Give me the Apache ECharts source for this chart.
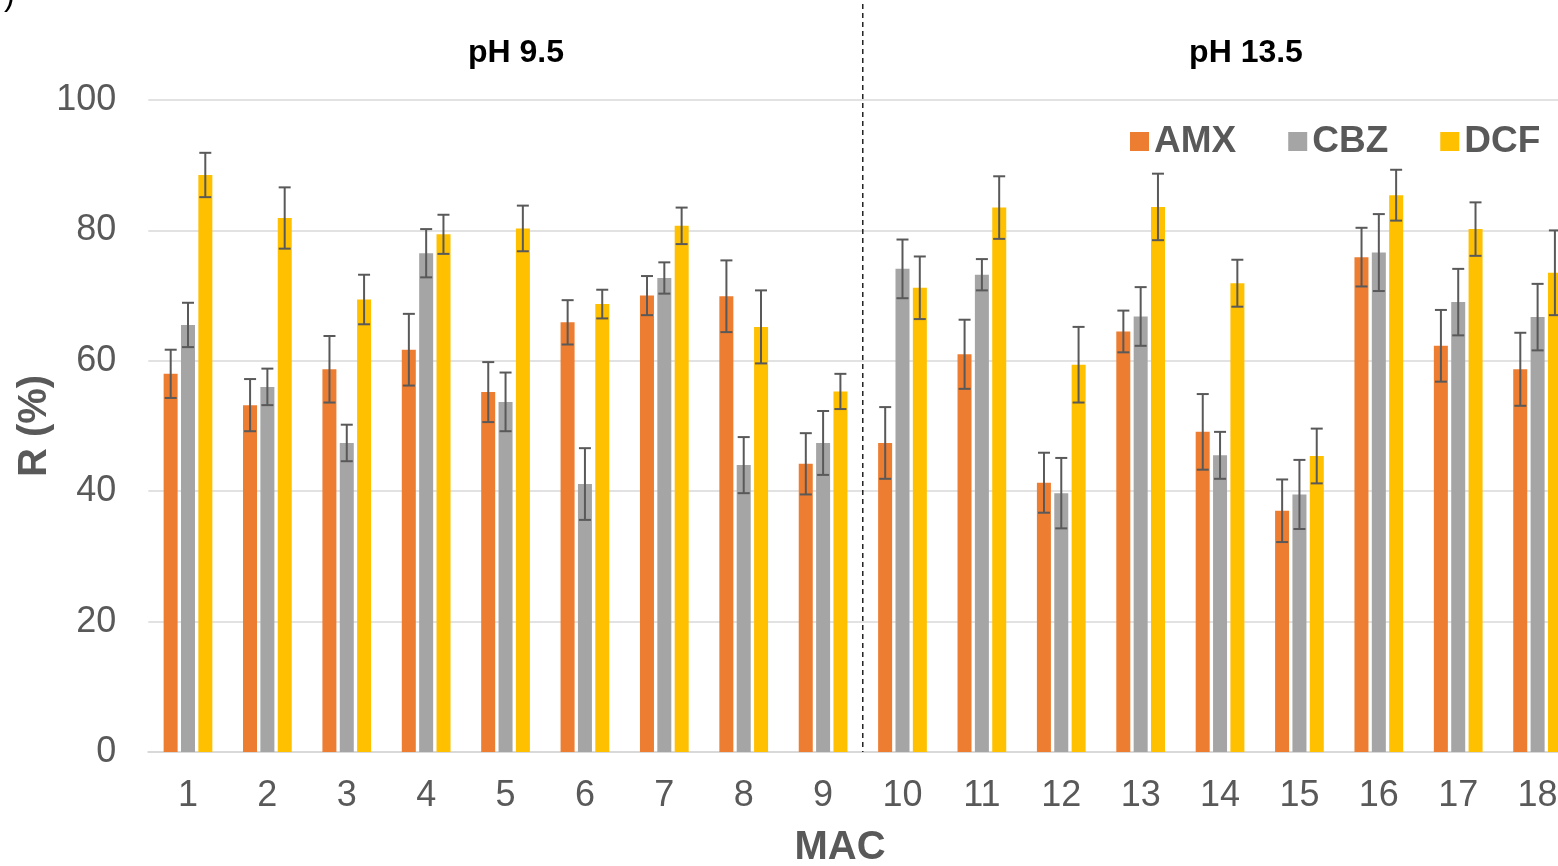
<!DOCTYPE html>
<html>
<head>
<meta charset="utf-8">
<script src="https://cdn.jsdelivr.net/npm/echarts@6/dist/echarts.min.js"></script>
<style>
  html, body { margin: 0; padding: 0; background: #fff; }
  #chart { width: 1558px; height: 866px; }
</style>
</head>
<body>
<div id="chart"></div>
<script>
// MAC 1-18, pH 9.5 for 1-9 and pH 13.5 for 10-18
var categories = ["1", "2", "3", "4", "5", "6", "7", "8", "9",
  "10", "11", "12", "13", "14", "15", "16", "17", "18"];
var seriesNames = ["AMX", "CBZ", "DCF"];
var amx = [58.0, 53.2, 58.7, 61.7, 55.2, 65.9, 70.0, 69.9, 44.2, 47.4, 61.0, 41.3, 64.5, 49.1, 37.0, 75.9, 62.3, 58.7];
var cbz = [65.5, 56.0, 47.4, 76.5, 53.7, 41.1, 72.7, 44.0, 47.4, 74.1, 73.2, 39.7, 66.8, 45.5, 39.5, 76.6, 69.0, 66.7];
var dcf = [88.5, 81.9, 69.4, 79.4, 80.3, 68.7, 80.7, 65.2, 55.3, 71.2, 83.5, 59.4, 83.6, 71.9, 45.4, 85.4, 80.2, 73.5];
var amxErr = [3.7, 4.0, 5.1, 5.5, 4.6, 3.4, 3.0, 5.5, 4.7, 5.5, 5.3, 4.6, 3.2, 5.8, 4.8, 4.5, 5.5, 5.6];
var cbzErr = [3.4, 2.8, 2.8, 3.7, 4.5, 5.5, 2.4, 4.3, 4.9, 4.5, 2.4, 5.4, 4.5, 3.6, 5.3, 5.9, 5.1, 5.1];
var dcfErr = [3.4, 4.7, 3.8, 3.0, 3.5, 2.2, 2.8, 5.6, 2.7, 4.8, 4.8, 5.8, 5.1, 3.6, 4.2, 3.9, 4.1, 6.5];
var yTicks = [0, 20, 40, 60, 80, 100];

var colors = ["#ED7D31", "#A5A5A5", "#FFC000"];
var BAR_W = 14;
var BAR_STEP = 17.3;
var FONT = "'Liberation Sans', Arial, sans-serif";

var chart = echarts.init(document.getElementById("chart"), null, { renderer: "canvas" });

function barSeries(name, vals, k) {
  return {
    name: name,
    type: "bar",
    data: vals,
    barWidth: BAR_W,
    barGap: "24%",
    itemStyle: { color: colors[k] },
  };
}

function errSeries(name, vals, errs, k) {
  return {
    name: name + " err",
    type: "custom",
    z: 10,
    silent: true,
    renderItem: function (params, api) {
      var i = api.value(0);
      var v = api.value(1);
      var e = api.value(2);
      var top = api.coord([i, v + e]);
      var bot = api.coord([i, v - e]);
      var x = top[0] + (k - 1) * BAR_STEP;
      var half = 6;
      var st = { stroke: "#595959", lineWidth: 2 };
      return {
        type: "group",
        children: [
          { type: "line", shape: { x1: x, y1: top[1], x2: x, y2: bot[1] }, style: st },
          { type: "line", shape: { x1: x - half, y1: top[1], x2: x + half, y2: top[1] }, style: st },
          { type: "line", shape: { x1: x - half, y1: bot[1], x2: x + half, y2: bot[1] }, style: st },
        ],
      };
    },
    data: vals.map(function (v, i) { return [i, v, errs[i]]; }),
  };
}

chart.setOption({
  animation: false,
  // plot runs past the right edge, as in the cropped original
  grid: { left: 148.3, top: 100, width: 1429, height: 652, outerBoundsMode: "none" },
  legend: {
    data: seriesNames,
    left: 1125,
    top: 118,
    icon: "rect",
    itemWidth: 19,
    itemHeight: 19,
    itemGap: 52,
    textStyle: { fontFamily: FONT, fontSize: 37, fontWeight: "bold", color: "#595959" },
  },
  xAxis: {
    type: "category",
    data: categories,
    axisTick: { show: false },
    axisLine: { lineStyle: { color: "#D9D9D9", width: 2 } },
    axisLabel: { fontFamily: FONT, fontSize: 36, color: "#595959", margin: 26 },
  },
  yAxis: {
    type: "value",
    min: yTicks[0],
    max: yTicks[yTicks.length - 1],
    interval: 20,
    name: "R (%)",
    nameLocation: "middle",
    nameRotate: 90,
    nameGap: 93,
    nameMoveOverlap: false,
    nameTextStyle: { fontFamily: FONT, fontSize: 40, fontWeight: "bold", color: "#595959" },
    axisLine: { show: false },
    axisTick: { show: false },
    axisLabel: { fontFamily: FONT, fontSize: 36, color: "#595959", margin: 32 },
    splitLine: { lineStyle: { color: "#D9D9D9", width: 1.5 } },
  },
  series: [
    barSeries("AMX", amx, 0),
    barSeries("CBZ", cbz, 1),
    barSeries("DCF", dcf, 2),
    errSeries("AMX", amx, amxErr, 0),
    errSeries("CBZ", cbz, cbzErr, 1),
    errSeries("DCF", dcf, dcfErr, 2),
  ],
});

// dashed separator between MAC 9 and 10
var xSep = (chart.convertToPixel({ xAxisIndex: 0 }, categories[8]) +
  chart.convertToPixel({ xAxisIndex: 0 }, categories[9])) / 2;
var yZero = chart.convertToPixel({ yAxisIndex: 0 }, 0);

chart.setOption({
  graphic: [
    {
      type: "line",
      shape: { x1: xSep, y1: 4, x2: xSep, y2: yZero },
      style: { stroke: "#000", lineWidth: 1.3, lineDash: [5, 4] },
      z: 20,
    },
    {
      type: "text", x: 516, y: 53,
      style: { text: "pH 9.5", font: "bold 32px " + FONT, fill: "#000", align: "center", verticalAlign: "middle" },
    },
    {
      type: "text", x: 1246, y: 53,
      style: { text: "pH 13.5", font: "bold 32px " + FONT, fill: "#000", align: "center", verticalAlign: "middle" },
    },
    {
      type: "text", x: 840, y: 848,
      style: { text: "MAC", font: "bold 40px " + FONT, fill: "#595959", align: "center", verticalAlign: "middle" },
    },
    {
      type: "text", x: 4, y: -20,
      style: { text: ")", font: "32px " + FONT, fill: "#000" },
    },
  ],
});
</script>
</body>
</html>
